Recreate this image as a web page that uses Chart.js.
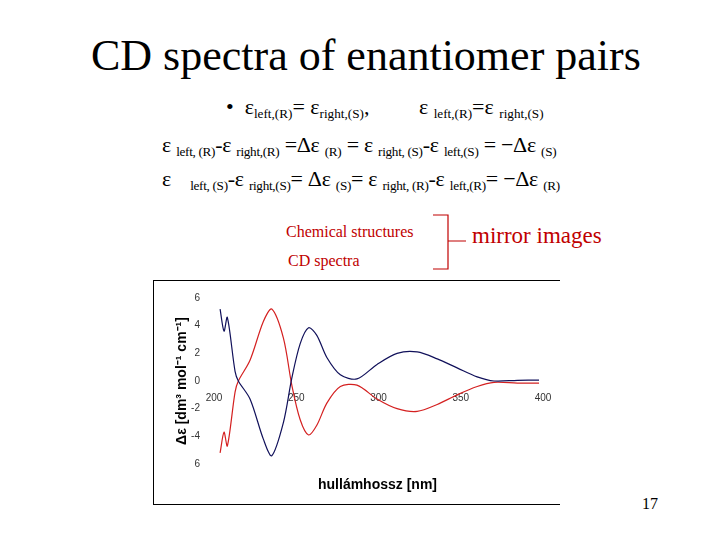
<!DOCTYPE html><html><head><meta charset="utf-8">
<script src="https://cdn.jsdelivr.net/npm/chart.js@4"></script>
<style>
body{margin:0;width:720px;height:540px;background:#fff;position:relative;font-family:"Liberation Serif","Times New Roman",serif;overflow:hidden}
.t{position:absolute;white-space:nowrap}
sub{font-size:60%;vertical-align:-0.3em}
.red{color:#c00000}
#box{position:absolute;left:153px;top:280px;width:407px;height:225px;border:1px solid #000;border-right:none;box-sizing:border-box}
</style></head><body>
<div class="t" style="left:91px;top:30px;font-size:44px">CD spectra of enantiomer pairs</div>
<div class="t" style="left:226px;top:94px;font-size:22px">•&nbsp; ε<sub>left,(R)</sub>= ε<sub>right,(S)</sub>, &nbsp;&nbsp;&nbsp;&nbsp;&nbsp;&nbsp;&nbsp; ε <sub>left,(R)</sub>=ε <sub>right,(S)</sub></div>
<div class="t" style="left:162px;top:132px;font-size:22px;letter-spacing:-0.3px">ε <sub>left, (R)</sub>-ε <sub>right,(R)</sub> =Δε <sub>(R)</sub> = ε <sub>right, (S)</sub>-ε <sub>left,(S)</sub> = −Δε <sub>(S)</sub></div>
<div class="t" style="left:162px;top:166px;font-size:22px;letter-spacing:-0.3px">ε <span style="margin-left:14px"></span><sub>left, (S)</sub>-ε <sub>right,(S)</sub>= Δε <sub>(S)</sub>= ε <sub>right, (R)</sub>-ε <sub>left,(R)</sub>= −Δε <sub>(R)</sub></div>
<div class="t red" style="left:286px;top:223px;font-size:16px">Chemical structures</div>
<div class="t red" style="left:288px;top:252px;font-size:16px">CD spectra</div>
<div class="t red" style="left:472px;top:223px;font-size:23px">mirror images</div>
<svg style="position:absolute;left:0;top:0" width="720" height="540"><path d="M433,215 H448 V269 H433 M448,241 H466" stroke="#c00000" fill="none" stroke-width="1.2"/></svg>
<div id="box"><canvas id="c" width="406" height="223"></canvas></div>
<div class="t" style="left:318px;top:476px;font-size:14px;font-weight:bold;font-family:'Liberation Sans',Arial,sans-serif">hullámhossz [nm]</div>
<div class="t" style="left:642px;top:495px;font-size:16px">17</div>
<script>
const wavelengths=[203.7,206.1,208.1,212.8,214.8,221.9,230,235.1,242.2,247.3,252.4,257.5,262.5,268.6,276.8,286.9,299.1,311.3,323.5,335.7,347.8,360,370.2,384.4,397.6];
const blueValues=[5.2,3.6,4.6,0.7,0.0,-1.3,-4.2,-5.4,-3.0,0.2,2.7,3.85,3.3,1.7,0.45,0.15,1.2,2.0,2.1,1.6,0.95,0.3,0.0,0.05,0.07];
const redValues=[-5.2,-3.7,-4.7,-0.8,0.0,1.5,4.3,5.2,3.1,-0.3,-2.8,-3.9,-3.2,-1.6,-0.4,-0.3,-1.3,-2.0,-2.2,-1.7,-1.0,-0.4,-0.1,-0.15,-0.15];
const yTickLabels={6:"6",4:"4",2:"2",0:"0","-2":"-2","-4":"-4","-6":"6"};
const pts=v=>wavelengths.map((x,i)=>({x,y:v[i]}));
new Chart(document.getElementById('c'),{type:'line',
data:{datasets:[
{data:pts(blueValues),borderColor:'#10105a',borderWidth:1.2,pointRadius:0,tension:0.3},
{data:pts(redValues),borderColor:'#d42020',borderWidth:1.2,pointRadius:0,tension:0.3}]},
options:{responsive:false,animation:false,layout:{padding:{top:17,bottom:40,right:17,left:20}},
plugins:{legend:{display:false},tooltip:{enabled:false}},
scales:{
x:{type:'linear',min:200,max:400,position:{y:0},grid:{display:false},border:{display:false},
ticks:{stepSize:50,color:'#333',font:{family:'Liberation Sans',size:10},padding:3,maxRotation:0}},
y:{min:-6,max:6,grid:{display:false},border:{display:false},
afterFit:s=>{s.width=40;},
ticks:{stepSize:2,color:'#333',font:{family:'Liberation Sans',size:10},padding:6,callback:v=>yTickLabels[v]},
title:{display:true,text:'Δε [dm³ mol⁻¹ cm⁻¹]',color:'#000',font:{family:'Liberation Sans',size:14,weight:'bold'},padding:0}}}}});
</script></body></html>
